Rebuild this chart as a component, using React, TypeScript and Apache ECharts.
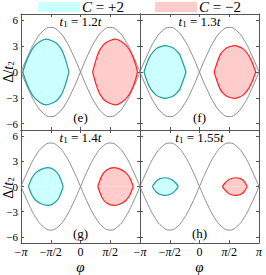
import React, { useEffect, useRef } from 'react';
import * as echarts from 'echarts';

// x values are stored in radians; axis runs in units of pi
const X_TICKS = [-1, -0.5, 0, 0.5, 1];
const X_TICK_LABELS = ['−{i|π}', '−{i|π}/2', '0', '{i|π}/2', '{i|π}'];
const Y_TICKS = [-6, -3, 0, 3, 6];
const PANEL_TAGS = ['(e)', '(f)', '(g)', '(h)'];
const T1_VALUES = ['1.2', '1.3', '1.4', '1.55'];
const LEGEND_LABELS = ['+2', '−2'];

// envelope branch; the other branch is its mirror
const ENV_PHI = [-3.14, -2.75, -2.36, -1.96, -1.57, -1.18, -0.79, -0.39, 0, 0.39, 0.79, 1.18, 1.57, 1.96, 2.36, 2.75, 3.14];
const ENV_DELTA = [0, -2.0, -3.7, -4.8, -5.2, -4.8, -3.7, -2.0, 0, 2.0, 3.7, 4.8, 5.2, 4.8, 3.7, 2.0, 0];

// upper boundaries of the C=+2 (cyan) and C=-2 (red) regions: [phi (rad), Delta/t2]
const CYAN_E: [number, number][] = [[-3.05, 0], [-2.92, 0.85], [-2.75, 1.8], [-2.49, 2.85], [-2.14, 3.55], [-1.8, 3.83], [-1.3, 3.4], [-1.0, 2.6], [-0.8, 1.5], [-0.607, 0]];
const RED_E: [number, number][] = [[0.64, 0], [0.83, 1.5], [1.03, 2.6], [1.33, 3.4], [1.82, 3.83], [2.16, 3.55], [2.5, 2.85], [2.76, 1.8], [2.91, 0.85], [3.01, 0]];
const CYAN_F: [number, number][] = [[-2.93, 0], [-2.8, 0.9], [-2.61, 1.85], [-2.26, 2.75], [-1.82, 3.07], [-1.38, 2.8], [-1.05, 2.05], [-0.71, 0]];
const RED_F: [number, number][] = [[0.77, 0], [1.1, 2.05], [1.42, 2.8], [1.84, 3.07], [2.27, 2.75], [2.62, 1.85], [2.82, 0.9], [2.97, 0]];
const CYAN_G: [number, number][] = [[-2.75, 0], [-2.58, 0.95], [-2.38, 1.6], [-2.08, 2.05], [-1.72, 2.25], [-1.4, 2.0], [-1.13, 1.3], [-0.91, 0]];
const RED_G: [number, number][] = [[0.91, 0], [1.13, 1.3], [1.4, 2.0], [1.78, 2.25], [2.12, 2.05], [2.42, 1.6], [2.62, 0.95], [2.79, 0]];
const CYAN_H: [number, number][] = [[-2.49, 0], [-2.3, 0.62], [-2.08, 0.95], [-1.8, 1.05], [-1.48, 0.85], [-1.26, 0.45], [-1.12, 0]];
const RED_H: [number, number][] = [[1.2, 0], [1.36, 0.45], [1.56, 0.85], [1.88, 1.05], [2.16, 0.95], [2.36, 0.62], [2.52, 0]];

const CYAN_REGIONS = [CYAN_E, CYAN_F, CYAN_G, CYAN_H];
const RED_REGIONS = [RED_E, RED_F, RED_G, RED_H];

const FONT = "'Liberation Serif', 'Times New Roman', serif";
const GRIDS = [
  { left: 21, top: 14 },
  { left: 140, top: 14 },
  { left: 21, top: 130 },
  { left: 140, top: 130 },
];
const GW = 119;
const GH = 116;
const YMAX = 6.75;
const FRAME = '#555';

function fmtY(v: number) {
  return v < 0 ? '−' + -v : String(v);
}
function fmtX(v: number) {
  const k = X_TICKS.findIndex((t) => Math.abs(t - v) < 1e-6);
  return k >= 0 ? X_TICK_LABELS[k] : '';
}

export default function App() {
  const ref = useRef<HTMLDivElement>(null);
  useEffect(() => {
    document.body.style.margin = '0';
    const chart = echarts.init(ref.current!, null, { renderer: 'svg' });
    const grid: any[] = [];
    const xAxis: any[] = [];
    const yAxis: any[] = [];
    const series: any[] = [];
    const graphic: any[] = [];

    const tick = { show: true, inside: true, length: 3, lineStyle: { color: FRAME, width: 1 } };
    const line = { show: true, onZero: false, lineStyle: { color: FRAME, width: 1 } };

    GRIDS.forEach((g, i) => {
      const isBottom = i >= 2;
      const isLeft = i % 2 === 0;
      grid.push({ left: g.left, top: g.top, width: GW, height: GH, containLabel: false });
      const xLabelVals = i === 2 ? X_TICKS.slice(0, 4) : X_TICKS;
      xAxis.push({
        type: 'value', gridIndex: i, min: -1, max: 1, position: 'bottom',
        axisLine: line, splitLine: { show: false },
        axisTick: { ...tick, customValues: X_TICKS },
        axisLabel: {
          show: isBottom, customValues: xLabelVals, margin: 3, formatter: fmtX,
          fontFamily: FONT, fontSize: 12, color: '#000',
          rich: { i: { fontFamily: FONT, fontSize: 12, fontStyle: 'italic', color: '#000' } },
        },
        name: isBottom ? 'φ' : '', nameLocation: 'middle', nameGap: 11,
        nameTextStyle: { fontFamily: FONT, fontStyle: 'italic', fontSize: 15, color: '#000' },
      });
      xAxis.push({
        type: 'value', gridIndex: i, min: -1, max: 1, position: 'top',
        axisLine: line, splitLine: { show: false },
        axisTick: { ...tick, customValues: X_TICKS },
        axisLabel: { show: false },
      });
      yAxis.push({
        type: 'value', gridIndex: i, min: -YMAX, max: YMAX, position: 'left',
        axisLine: line, splitLine: { show: false },
        axisTick: { ...tick, customValues: Y_TICKS },
        axisLabel: {
          show: isLeft, customValues: Y_TICKS, margin: 3, formatter: fmtY,
          fontFamily: FONT, fontSize: 11, lineHeight: 11, color: '#000',
        },
      });
      yAxis.push({
        type: 'value', gridIndex: i, min: -YMAX, max: YMAX, position: 'right',
        axisLine: line, splitLine: { show: false },
        axisTick: { ...tick, customValues: Y_TICKS },
        axisLabel: { show: false },
      });

      const xi = 2 * i;
      const yi = 2 * i;
      const toX = (phi: number) => phi / Math.PI;
      [1, -1].forEach((sgn) => {
        series.push({
          type: 'line', xAxisIndex: xi, yAxisIndex: yi, silent: true,
          showSymbol: false, smooth: 0.5,
          lineStyle: { color: '#808080', width: 0.9 },
          data: ENV_PHI.map((p, k) => [toX(p), sgn * ENV_DELTA[k]]),
        });
      });
      const regions = [
        { pts: CYAN_REGIONS[i], fill: '#ccffff', stroke: '#1f9e9e' },
        { pts: RED_REGIONS[i], fill: '#ffcccc', stroke: '#ff2020' },
      ];
      regions.forEach((r) => {
        [1, -1].forEach((sgn) => {
          series.push({
            type: 'line', xAxisIndex: xi, yAxisIndex: yi, silent: true,
            showSymbol: false, smooth: 0.2,
            lineStyle: { color: r.stroke, width: 1.2 },
            areaStyle: { color: r.fill, opacity: 1, origin: 0 },
            data: r.pts.map(([p, d]) => [toX(p), sgn * d]),
          });
        });
      });

      const cx = g.left + GW / 2;
      graphic.push({
        type: 'text', x: cx, y: g.top + 7, z: 10,
        style: {
          text: `{i|t}{s|1} = ${T1_VALUES[i]}{i|t}`,
          align: 'center', verticalAlign: 'middle',
          fontFamily: FONT, fontSize: 13, fill: '#000',
          rich: {
            i: { fontFamily: FONT, fontSize: 13, fontStyle: 'italic', fill: '#000' },
            s: { fontFamily: FONT, fontSize: 9, fill: '#000', padding: [6, 0, 0, 0] },
          },
        },
      });
      graphic.push({
        type: 'text', x: cx, y: g.top + 103, z: 10,
        style: {
          text: PANEL_TAGS[i], align: 'center', verticalAlign: 'middle',
          fontFamily: FONT, fontSize: 13, fill: '#000',
        },
      });
      if (isLeft) {
        graphic.push({
          type: 'text', x: 8, y: g.top + GH / 2, rotation: Math.PI / 2, z: 10,
          style: {
            text: 'Δ/{i|t}{s|2}', align: 'center', verticalAlign: 'middle',
            fontFamily: FONT, fontSize: 14, fill: '#000',
            rich: {
              i: { fontFamily: FONT, fontSize: 14, fontStyle: 'italic', fill: '#000' },
              s: { fontFamily: FONT, fontSize: 9, fill: '#000', padding: [6, 0, 0, 0] },
            },
          },
        });
      }
    });

    const legendItems = [
      { x: 38, fill: '#ccffff', label: LEGEND_LABELS[0] },
      { x: 155, fill: '#ffcccc', label: LEGEND_LABELS[1] },
    ];
    legendItems.forEach((l) => {
      graphic.push({ type: 'rect', shape: { x: l.x, y: 2, width: 42, height: 10 }, style: { fill: l.fill } });
      graphic.push({
        type: 'text', x: l.x + 44, y: 7,
        style: {
          text: `{i|C} = ${l.label}`, align: 'left', verticalAlign: 'middle',
          fontFamily: FONT, fontSize: 15, fill: '#000',
          rich: { i: { fontFamily: FONT, fontSize: 15, fontStyle: 'italic', fill: '#000' } },
        },
      });
    });

    chart.setOption({ animation: false, grid, xAxis, yAxis, series, graphic });
    return () => chart.dispose();
  }, []);
  return <div ref={ref} style={{ width: 266, height: 275 }} />;
}
